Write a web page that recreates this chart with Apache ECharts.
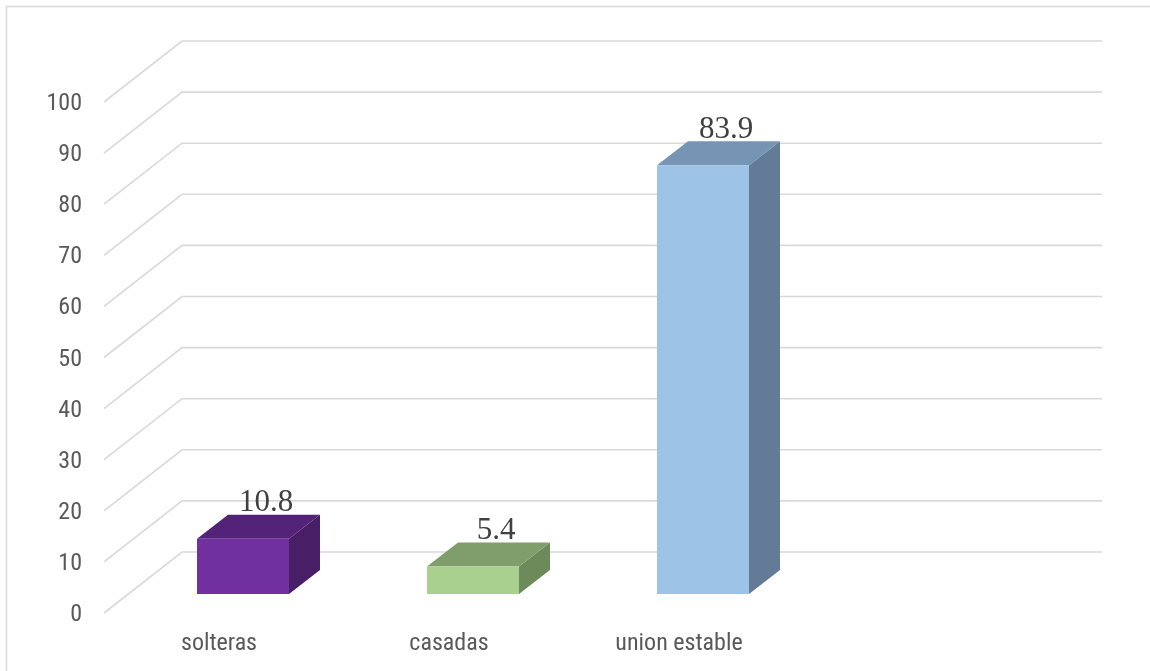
<!DOCTYPE html>
<html>
<head>
<meta charset="utf-8">
<script src="https://cdn.jsdelivr.net/npm/echarts@6/dist/echarts.min.js"></script>
<style>
  html, body { margin: 0; padding: 0; background: #ffffff; }
  #chart { width: 1150px; height: 671px; }
</style>
</head>
<body>
<div id="chart"></div>
<script>
// Estado civil (%)
const categories = ['solteras', 'casadas', 'union estable', ''];
const values = [10.8, 5.4, 83.9];
const gridTicks = [0, 10, 20, 30, 40, 50, 60, 70, 80, 90, 100];

// Face colours per bar: front, top, side
const frontColors = ['#7030A0', '#A9D08E', '#9DC3E6'];
const topColors = ['#532379', '#7F9E6B', '#7694B3'];
const sideColors = ['#481E67', '#6D8A5B', '#637B96'];

// Oblique projection offsets (pixels) relative to the bar front plane
const BAR_DEPTH = [31, -24];
const WALL_FRONT = [-24, 19];
const WALL_BACK = [54, -42];

const labelFont = '"Liberation Sans Narrow", "Roboto Condensed", "Liberation Sans", sans-serif';

const chart = echarts.init(document.getElementById('chart'), null, { renderer: 'canvas' });

chart.setOption({
  backgroundColor: '#ffffff',
  animation: false,
  graphic: [{
    type: 'rect',
    shape: { x: 6.5, y: 6.5, width: 1160, height: 680 },
    style: { fill: 'none', stroke: '#D9D9D9', lineWidth: 1.5 },
    silent: true
  }],
  grid: [
    // bar front plane
    { left: 128, right: 102, top: 83, bottom: 77 },
    // front edge of the walls (axis labels)
    { left: 104, right: 126, top: 104, bottom: 56 }
  ],
  xAxis: [
    { type: 'category', gridIndex: 0, data: categories, show: false },
    {
      type: 'category', gridIndex: 1, data: categories,
      axisLine: { show: false }, axisTick: { show: false },
      axisLabel: { color: '#595959', fontSize: 24, fontFamily: labelFont, margin: 17 },
      splitLine: { show: false }
    }
  ],
  yAxis: [
    { type: 'value', gridIndex: 0, min: 0, max: 100, interval: 10, show: false },
    {
      type: 'value', gridIndex: 1, min: 0, max: 100, interval: 10,
      axisLine: { show: false }, axisTick: { show: false },
      axisLabel: { color: '#595959', fontSize: 24, fontFamily: labelFont, margin: 22 },
      splitLine: { show: false }
    }
  ],
  series: [
    {
      // wall gridlines: diagonal side wall + horizontal back wall
      type: 'custom',
      xAxisIndex: 0, yAxisIndex: 0,
      silent: true,
      clip: false,
      z: 1,
      data: gridTicks.map(v => [0, v]),
      renderItem: function (params, api) {
        const cs = params.coordSys;
        const y = api.coord([0, api.value(1)])[1];
        return {
          type: 'polyline',
          shape: {
            points: [
              [cs.x + WALL_FRONT[0], y + WALL_FRONT[1]],
              [cs.x + WALL_BACK[0], y + WALL_BACK[1]],
              [cs.x + cs.width + WALL_BACK[0], y + WALL_BACK[1]]
            ]
          },
          style: { stroke: '#D9D9D9', lineWidth: 1.6, fill: null }
        };
      }
    },
    {
      // 3D bars
      type: 'custom',
      xAxisIndex: 0, yAxisIndex: 0,
      clip: false,
      z: 5,
      data: values.map((v, i) => [i, v]),
      renderItem: function (params, api) {
        const i = params.dataIndex;
        const v = api.value(1);
        const base = api.coord([api.value(0), 0]);
        const top = api.coord([api.value(0), v]);
        const w = api.size([1, 0])[0] * 0.4;
        const x0 = base[0] - w / 2, x1 = base[0] + w / 2;
        const yb = base[1], yt = top[1];
        const dx = BAR_DEPTH[0], dy = BAR_DEPTH[1];
        return {
          type: 'group',
          children: [
            {
              type: 'polygon',
              shape: { points: [[x1, yt], [x1 + dx, yt + dy], [x1 + dx, yb + dy], [x1, yb]] },
              style: { fill: sideColors[i] }
            },
            {
              type: 'polygon',
              shape: { points: [[x0, yt], [x1, yt], [x1 + dx, yt + dy], [x0 + dx, yt + dy]] },
              style: { fill: topColors[i] }
            },
            {
              type: 'rect',
              shape: { x: x0, y: yt, width: w, height: yb - yt },
              style: { fill: frontColors[i] }
            },
            {
              type: 'text',
              x: base[0] + 23,
              y: yt + dy + 4,
              style: {
                text: String(v),
                fill: '#404040',
                fontSize: 31,
                fontFamily: '"Liberation Serif", "Times New Roman", serif',
                align: 'center',
                verticalAlign: 'bottom'
              }
            }
          ]
        };
      }
    }
  ]
});
</script>
</body>
</html>
